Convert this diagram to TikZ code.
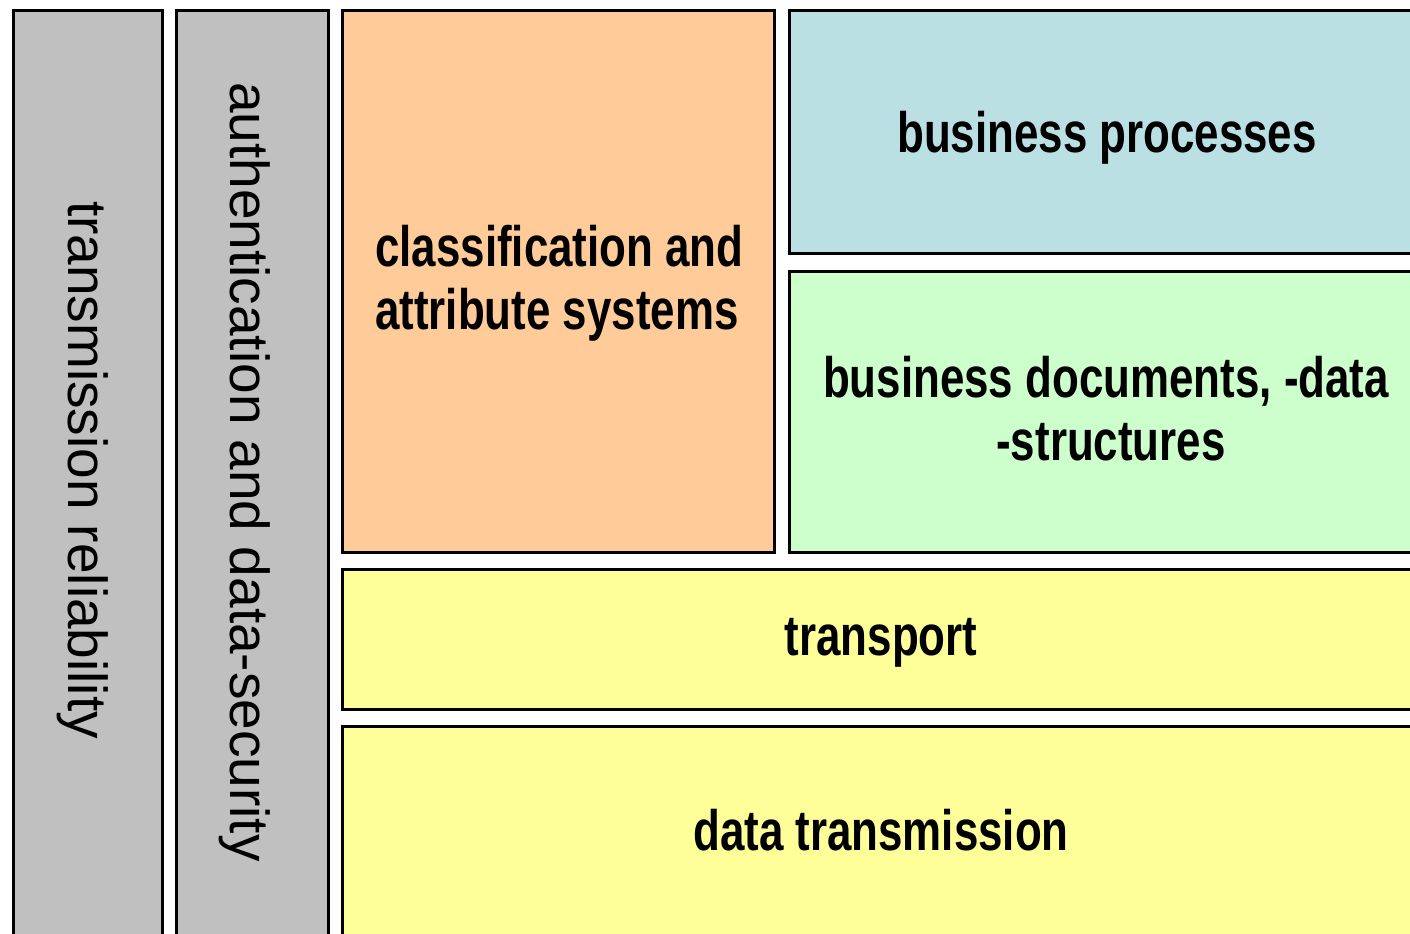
\documentclass[tikz,border=0pt]{standalone}
\usepackage{fontspec}
\setmainfont{Liberation Sans}
\newfontfamily\hfont[FakeStretch=0.77]{Liberation Sans}
\definecolor{grayc}{HTML}{C0C0C0}
\definecolor{orangec}{HTML}{FFCC99}
\definecolor{bluec}{HTML}{BBE0E3}
\definecolor{greenc}{HTML}{CCFFCC}
\definecolor{yellowc}{HTML}{FFFF99}
\tikzset{
  layer/.style={draw=black, line width=3bp},
  htext/.style={inner sep=0pt, font=\hfont\bfseries\fontsize{57bp}{60bp}\selectfont},
  vtext/.style={inner sep=0pt, rotate=-90, anchor=base, font=\fontsize{55bp}{60bp}\selectfont}
}
\begin{document}
\begin{tikzpicture}[x=1bp, y=-1bp]
\useasboundingbox (0,0) rectangle (1410,933);
\clip (0,0) rectangle (1410,933);
\fill[white] (0,0) rectangle (1410,933);
\path[layer, fill=grayc] (13,10) rectangle (162,960);
\path[layer, fill=grayc] (176,10) rectangle (328,960);
\path[layer, fill=orangec] (342,10) rectangle (774,552);
\path[layer, fill=bluec] (789,10) rectangle (1440,253);
\path[layer, fill=greenc] (789,271) rectangle (1440,552);
\path[layer, fill=yellowc] (342,569) rectangle (1440,709);
\path[layer, fill=yellowc] (342,726) rectangle (1440,960);
\node[htext, anchor=base] (bp) at (1107,152) {business processes};
\node[htext, anchor=base west] (cl1) at (375,266) {classification and};
\node[htext, anchor=base west] (cl2) at (375,329) {attribute systems};
\node[htext, anchor=base] (bd1) at (1106,397) {business documents, -data};
\node[htext, anchor=base] (bd2) at (1111,460) {-structures};
\node[htext, anchor=base] (tr) at (881,655) {transport};
\node[htext, anchor=base] (dt) at (881,850) {data transmission};
\node[vtext] (rel) at (68,470) {transmission reliability};
\node[vtext] (auth) at (230,472) {authentication and data-security};
\end{tikzpicture}
\end{document}
